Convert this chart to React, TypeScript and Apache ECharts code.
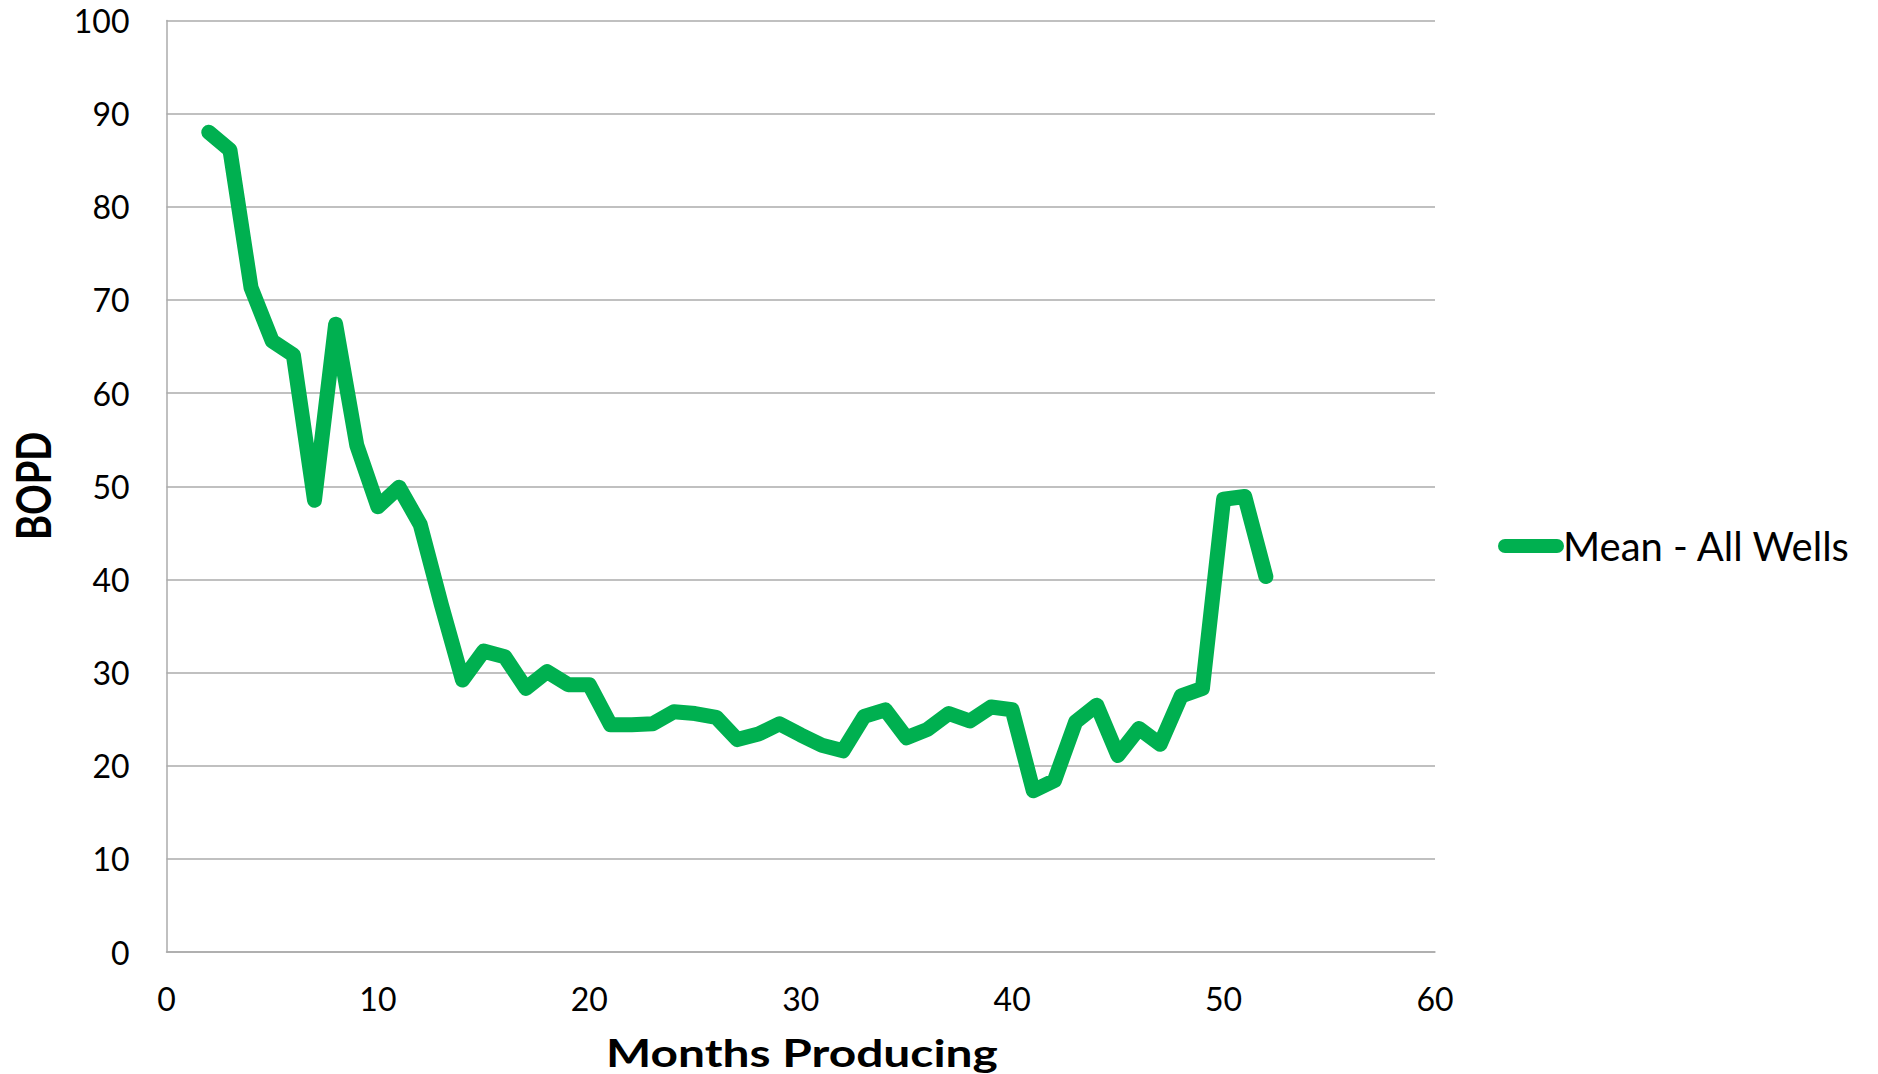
import React, { useEffect, useRef } from "react";
import * as echarts from "echarts";

const months: number[] = [
  2, 3, 4, 5, 6, 7, 8, 9, 10, 11, 12, 13, 14, 15, 16, 17, 18, 19, 20, 21, 22, 23, 24, 25, 26, 27,
  28, 29, 30, 31, 32, 33, 34, 35, 36, 37, 38, 39, 40, 41, 42, 43, 44, 45, 46, 47, 48, 49, 50, 51, 52,
];
const meanBopd: number[] = [
  88.0, 86.1, 71.3, 65.6, 64.1, 48.5, 67.4, 54.4, 47.8, 49.9, 45.9, 37.3, 29.2, 32.3, 31.7, 28.3,
  30.1, 28.7, 28.7, 24.4, 24.4, 24.5, 25.8, 25.6, 25.2, 22.8, 23.4, 24.5, 23.3, 22.2, 21.6, 25.3,
  26.0, 23.0, 23.9, 25.6, 24.8, 26.3, 26.0, 17.3, 18.4, 24.7, 26.5, 21.1, 24.0, 22.3, 27.5, 28.3,
  48.6, 48.9, 40.3,
];
const seriesName = "Mean - All Wells";
const xAxisTitle = "Months Producing";
const yAxisTitle = "BOPD";

const FONT = "Lato, 'Open Sans', sans-serif";
const GREEN = "#00B050";
const GRID_GRAY = "#ABABAB";

export default function App() {
  const ref = useRef<HTMLDivElement>(null);

  useEffect(() => {
    document.body.style.margin = "0";
    document.body.style.overflow = "hidden";
    document.documentElement.style.overflow = "hidden";
    if (!ref.current) return;
    const chart = echarts.init(ref.current, undefined, { renderer: "svg" });
    const data = months.map((m, i) => [m, meanBopd[i]]);
    chart.setOption({
      animation: false,
      backgroundColor: "#ffffff",
      textStyle: { fontFamily: FONT },
      grid: {
        left: 166.5,
        right: 443,
        top: 20.5,
        bottom: 122,
        containLabel: false,
        outerBoundsMode: "none",
      },
      legend: {
        show: true,
        orient: "vertical",
        left: 1493,
        top: 521,
        itemWidth: 66,
        itemHeight: 14,
        icon: "path://M7,0 L59,0 A7,7 0 0 1 59,14 L7,14 A7,7 0 0 1 7,0 Z",
        textStyle: { fontFamily: FONT, fontSize: 40, color: "#000000", padding: [0, 0, 0, -6] },
        data: [{ name: seriesName, itemStyle: { color: GREEN } }],
      },
      graphic: [
        {
          type: "text",
          x: 802,
          y: 1052,
          scaleX: 1.26,
          silent: true,
          style: {
            text: xAxisTitle,
            x: 0,
            y: 0,
            fill: "#000000",
            fontFamily: FONT,
            fontSize: 38,
            fontWeight: "bold",
            align: "center",
            verticalAlign: "middle",
            textAlign: "center",
            textVerticalAlign: "middle",
          },
        },
        {
          type: "text",
          x: 33,
          y: 486,
          rotation: Math.PI / 2,
          scaleY: 1.24,
          silent: true,
          style: {
            text: yAxisTitle,
            x: 0,
            y: 0,
            fill: "#000000",
            fontFamily: FONT,
            fontSize: 38,
            fontWeight: "bold",
            align: "center",
            verticalAlign: "middle",
            textAlign: "center",
            textVerticalAlign: "middle",
          },
        },
      ],
      xAxis: {
        type: "value",
        min: 0,
        max: 60,
        interval: 10,
        axisLine: { show: true, lineStyle: { color: GRID_GRAY, width: 1.5 } },
        axisTick: { show: false },
        splitLine: { show: false },
        axisLabel: { fontFamily: FONT, fontSize: 32, color: "#000000", margin: 30 },
      },
      yAxis: {
        type: "value",
        min: 0,
        max: 100,
        interval: 10,
        axisLine: { show: true, lineStyle: { color: GRID_GRAY, width: 1.5 } },
        axisTick: { show: false },
        splitLine: { show: true, lineStyle: { color: GRID_GRAY, width: 1.5 } },
        axisLabel: { fontFamily: FONT, fontSize: 32, color: "#000000", margin: 37 },
      },
      series: [
        {
          name: seriesName,
          type: "line",
          data,
          showSymbol: false,
          symbol: "none",
          lineStyle: { color: GREEN, width: 15, join: "round", cap: "round" },
          itemStyle: { color: GREEN },
        },
      ],
    });
    return () => chart.dispose();
  }, []);

  return (
    <div style={{ width: 1878, height: 1074, overflow: "hidden", position: "relative" }}>
      <div ref={ref} style={{ width: 1878, height: 1074, display: "block" }} />
    </div>
  );
}
